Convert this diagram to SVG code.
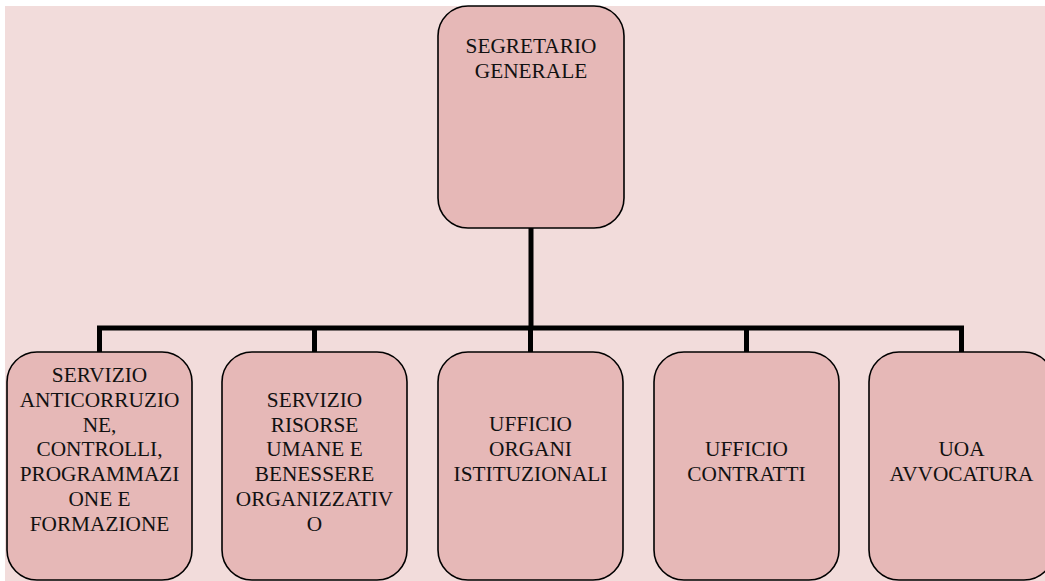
<svg xmlns="http://www.w3.org/2000/svg" width="1045" height="581" viewBox="0 0 1045 581">
<style>
.node{fill:#e6b8b7;stroke:#000;stroke-width:1.6}
.lbl{font-family:"Liberation Serif","Times New Roman",serif;font-size:21.3px;fill:#111;text-anchor:middle}
.conn{fill:none;stroke:#000;stroke-width:5}
</style>
<rect x="5" y="6" width="1040" height="575" fill="#f2dcdb"/>
<g id="connectors">
<path class="conn" d="M531 228 V328 M99.5 352 V328 H961.5 V352 M314.5 328 V352 M530.5 328 V352 M746.5 328 V352"/>
</g>
<g id="n0">
<rect class="node" x="438" y="6" width="186" height="222" rx="30"/>
<text class="lbl" x="531" y="53.3">SEGRETARIO</text>
<text class="lbl" x="531" y="77.7">GENERALE</text>
</g>
<g id="n1">
<rect class="node" x="7" y="352" width="185" height="228" rx="30"/>
<text class="lbl" x="99.5" y="382.3">SERVIZIO</text>
<text class="lbl" x="99.5" y="407">ANTICORRUZIO</text>
<text class="lbl" x="99.5" y="431.7">NE,</text>
<text class="lbl" x="99.5" y="456.4">CONTROLLI,</text>
<text class="lbl" x="99.5" y="481.1">PROGRAMMAZI</text>
<text class="lbl" x="99.5" y="505.8">ONE E</text>
<text class="lbl" x="99.5" y="530.5">FORMAZIONE</text>
</g>
<g id="n2">
<rect class="node" x="222" y="352" width="185" height="228" rx="30"/>
<text class="lbl" x="314.5" y="407">SERVIZIO</text>
<text class="lbl" x="314.5" y="431.7">RISORSE</text>
<text class="lbl" x="314.5" y="456.4">UMANE E</text>
<text class="lbl" x="314.5" y="481.1">BENESSERE</text>
<text class="lbl" x="314.5" y="505.8">ORGANIZZATIV</text>
<text class="lbl" x="314.5" y="530.5">O</text>
</g>
<g id="n3">
<rect class="node" x="438" y="352" width="185" height="228" rx="30"/>
<text class="lbl" x="530.5" y="431">UFFICIO</text>
<text class="lbl" x="530.5" y="455.7">ORGANI</text>
<text class="lbl" x="530.5" y="480.7">ISTITUZIONALI</text>
</g>
<g id="n4">
<rect class="node" x="654" y="352" width="185" height="228" rx="30"/>
<text class="lbl" x="746.5" y="456">UFFICIO</text>
<text class="lbl" x="746.5" y="480.7">CONTRATTI</text>
</g>
<g id="n5">
<rect class="node" x="869" y="352" width="185" height="228" rx="30"/>
<text class="lbl" x="961.5" y="456">UOA</text>
<text class="lbl" x="961.5" y="480.7">AVVOCATURA</text>
</g>
</svg>
